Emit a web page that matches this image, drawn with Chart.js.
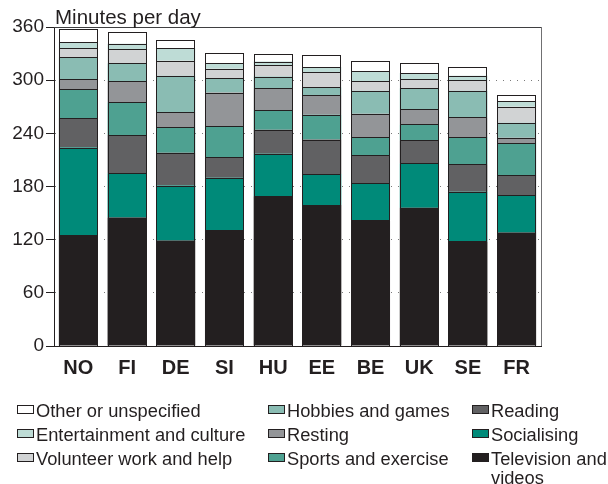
<!DOCTYPE html>
<html>
<head>
<meta charset="utf-8">
<script src="https://cdn.jsdelivr.net/npm/chart.js@4/dist/chart.umd.min.js"></script>
<style>
  html, body { margin: 0; padding: 0; background: #ffffff; }
  #wrap { position: relative; width: 608px; height: 484px; }
  #c { position: absolute; left: 0; top: 0; }
  #legend { position: absolute; left: 0; top: 0; width: 608px; height: 484px; pointer-events: none;
            font-family: "Liberation Sans", Arial, Helvetica, sans-serif; font-size: 18.3px; color: #231f20; }
  .item { position: absolute; white-space: nowrap; line-height: 19px; }
  .box { position: absolute; width: 15px; height: 7px; border: 1px solid #231f20; }
</style>
</head>
<body>
<div id="wrap">
  <canvas id="c" width="608" height="484"></canvas>
  <div id="legend"></div>
</div>
<script>
// ---- data ----
const categories = ['NO', 'FI', 'DE', 'SI', 'HU', 'EE', 'BE', 'UK', 'SE', 'FR'];
const television = [125, 145, 119, 131, 169, 159, 142, 156, 118, 128];
const socialising = [99, 50, 62, 59, 48, 35, 42, 50, 56, 42];
const reading = [33, 43, 37, 23, 27, 39, 31, 26, 31, 23];
const sports = [33, 37, 29, 35, 22, 28, 21, 18, 31, 36];
const resting = [11, 24, 17, 38, 25, 22, 26, 17, 22, 6];
const hobbies = [25, 20, 41, 16, 13, 9, 26, 24, 30, 17];
const volunteer = [10, 16, 17, 11, 13, 17, 11, 10, 12, 18];
const entertainment = [7, 6, 14, 6, 4, 6, 11, 7, 5, 6];
const other = [15, 13, 9, 12, 8, 13, 12, 11, 10, 7];
const yTicks = [0, 60, 120, 180, 240, 300, 360];
const yTitle = 'Minutes per day';

const seriesNames = ['Television and videos', 'Socialising', 'Reading', 'Sports and exercise',
  'Resting', 'Hobbies and games', 'Volunteer work and help', 'Entertainment and culture', 'Other or unspecified'];
const seriesData = [television, socialising, reading, sports, resting, hobbies, volunteer, entertainment, other];
const seriesColors = ['#231f20', '#008a79', '#616163', '#4ea191', '#939598', '#8abcb3', '#d1d3d4', '#bedcd6', '#ffffff'];

const datasets = seriesNames.map((name, i) => ({
  label: name,
  data: seriesData[i],
  backgroundColor: seriesColors[i],
  borderWidth: 0,
  inflateAmount: 0,
  barPercentage: 0.8,
  categoryPercentage: 1.0
}));

// crisp 1px segment outlines drawn from the library's bar elements
const segmentOutlines = {
  id: 'segmentOutlines',
  afterDatasetsDraw(chart) {
    const ctx = chart.ctx;
    ctx.save();
    ctx.lineWidth = 1;
    ctx.strokeStyle = '#231f20';
    chart.data.datasets.forEach((ds, i) => {
      chart.getDatasetMeta(i).data.forEach(el => {
        const p = el.getProps(['x', 'y', 'base', 'width'], true);
        const l = Math.round(p.x - p.width / 2);
        const r = Math.round(p.x + p.width / 2);
        const t = Math.round(Math.min(p.y, p.base));
        const b = Math.round(Math.max(p.y, p.base));
        ctx.strokeRect(l + 0.5, t + 0.5, r - l - 1, b - t - 1 + 1);
      });
    });
    ctx.restore();
  }
};

const frameAndTitle = {
  id: 'frameAndTitle',
  afterDatasetsDraw(chart) {
    const ctx = chart.ctx;
    const a = chart.chartArea;
    ctx.save();
    ctx.lineWidth = 1;
    ctx.strokeStyle = '#3f3f41';
    ctx.beginPath();
    ctx.moveTo(a.left, Math.round(a.top) + 0.5);
    ctx.lineTo(a.right, Math.round(a.top) + 0.5);
    ctx.stroke();
    ctx.strokeStyle = '#707072';
    ctx.beginPath();
    ctx.moveTo(Math.round(a.right) + 0.5, a.top);
    ctx.lineTo(Math.round(a.right) + 0.5, a.bottom);
    ctx.stroke();
    ctx.fillStyle = '#231f20';
    ctx.font = '20.5px "Liberation Sans", Arial, Helvetica, sans-serif';
    ctx.textAlign = 'left';
    ctx.textBaseline = 'alphabetic';
    ctx.fillText(yTitle, 55, 24);
    ctx.restore();
  }
};

new Chart(document.getElementById('c'), {
  type: 'bar',
  data: { labels: categories, datasets: datasets },
  options: {
    responsive: false,
    animation: false,
    layout: { padding: { left: 0, right: 67, top: 27, bottom: 0 } },
    plugins: { legend: { display: false }, tooltip: { enabled: false }, title: { display: false } },
    scales: {
      x: {
        stacked: true,
        grid: { display: false, drawTicks: false },
        border: { display: true, color: '#231f20', width: 1 },
        ticks: {
          padding: 10,
          color: '#231f20',
          font: { family: '"Liberation Sans", Arial, Helvetica, sans-serif', size: 20, weight: 'bold' }
        },
        afterFit(scale) { scale.height = 138; }
      },
      y: {
        stacked: true,
        min: 0,
        max: 360,
        afterBuildTicks(scale) { scale.ticks = yTicks.map(v => ({ value: v })); },
        grid: {
          color: '#7a7a7a',
          lineWidth: 1,
          drawTicks: true,
          tickLength: 8,
          tickColor: '#231f20',
          tickWidth: 1
        },
        border: { display: true, color: '#231f20', width: 1, dash: [1, 6] },
        ticks: {
          padding: 2,
          color: '#231f20',
          font: { family: '"Liberation Sans", Arial, Helvetica, sans-serif', size: 19 }
        },
        afterFit(scale) { scale.width = 54; }
      }
    }
  },
  plugins: [segmentOutlines, frameAndTitle]
});

// ---- HTML legend (3 columns, top of stack first) ----
const legendOrder = [8, 7, 6, 5, 4, 3, 2, 1, 0];
const colX = [17, 268, 472];
const rowBaseY = [416, 440, 464];
const legendEl = document.getElementById('legend');
legendOrder.forEach((si, k) => {
  const col = Math.floor(k / 3), row = k % 3;
  const box = document.createElement('div');
  box.className = 'box';
  box.style.left = colX[col] + 'px';
  box.style.top = (rowBaseY[row] - 11) + 'px';
  box.style.background = seriesColors[si];
  legendEl.appendChild(box);
  const t = document.createElement('div');
  t.className = 'item';
  t.style.left = (colX[col] + 19) + 'px';
  t.style.top = (rowBaseY[row] - 15) + 'px';
  let label = seriesNames[si];
  if (label === 'Television and videos') label = 'Television and<br>videos';
  t.innerHTML = label;
  legendEl.appendChild(t);
});
</script>
</body>
</html>
